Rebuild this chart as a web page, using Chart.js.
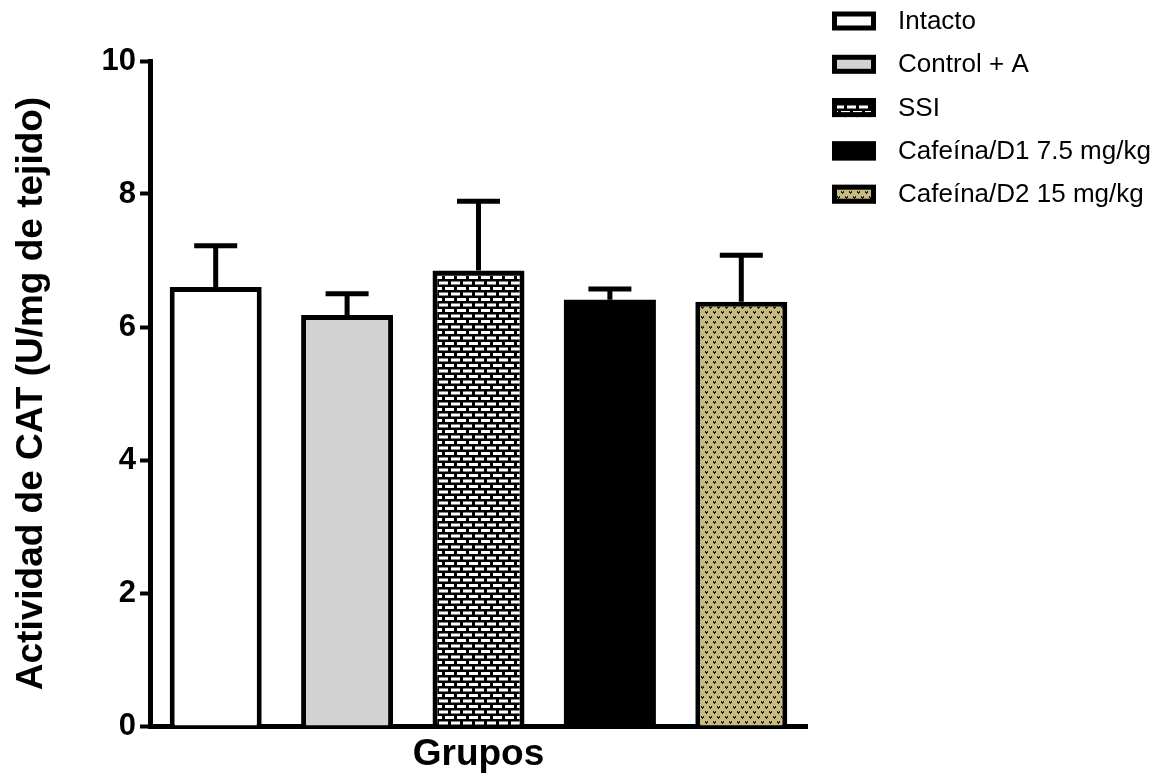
<!DOCTYPE html>
<html lang="es">
<head>
  <meta charset="UTF-8">
  <title>Actividad de CAT</title>
  <style>
    body { margin: 0; background: #fff; }
    #grafica { display: block; }
  </style>
</head>
<body>

<canvas id="grafica" width="1163" height="777"></canvas>

<script src="https://cdn.jsdelivr.net/npm/chart.js"></script>
<script>
  // datos
  const grupos = ['Intacto', 'Control + A', 'SSI', 'Cafeína/D1 7.5 mg/kg', 'Cafeína/D2 15 mg/kg'];
  const medias = [6.60, 6.18, 6.85, 6.41, 6.38];
  const errores = [0.62, 0.32, 1.04, 0.16, 0.70];
  const ejeY = { min: 0, max: 10, paso: 2 };

  const fuente = "'Liberation Sans', Arial, sans-serif";

  // patron de ladrillos (SSI)
  function patronLadrillo(ctx) {
    const c = document.createElement('canvas');
    c.width = 12; c.height = 11;
    const g = c.getContext('2d');
    g.fillStyle = '#000';
    g.fillRect(0, 0, 12, 11);
    g.fillStyle = '#fff';
    g.fillRect(1, 1, 9, 3);
    g.fillRect(7, 6.5, 5, 3);
    g.fillRect(0, 6.5, 4, 3);
    return ctx.createPattern(c, 'repeat');
  }

  // patron caqui con marcas oscuras (D2)
  function patronCaqui(ctx) {
    const c = document.createElement('canvas');
    c.width = 8; c.height = 10;
    const g = c.getContext('2d');
    g.fillStyle = '#c8bb7f';
    g.fillRect(0, 0, 8, 10);
    g.fillStyle = '#1f1e18';
    const marca = (x, y) => {
      g.fillRect(x, y, 1, 2);
      g.fillRect(x + 2, y, 1, 2);
      g.fillRect(x + 1, y + 1, 1, 2);
    };
    marca(1, 1);
    marca(5, 6);
    return ctx.createPattern(c, 'repeat');
  }

  const ctx = document.getElementById('grafica').getContext('2d');
  const rellenos = ['#ffffff', '#d3d3d3', patronLadrillo(ctx), '#000000', patronCaqui(ctx)];

  // barras de error (solo hacia arriba)
  const barrasError = {
    id: 'barrasError',
    afterDatasetsDraw(chart) {
      const c = chart.ctx;
      const y = chart.scales.y;
      const meta = chart.getDatasetMeta(0);
      c.save();
      c.strokeStyle = '#000';
      c.lineWidth = 5;
      meta.data.forEach((bar, i) => {
        const yBase = y.getPixelForValue(medias[i]);
        const yTop = y.getPixelForValue(medias[i] + errores[i]);
        c.beginPath();
        c.moveTo(bar.x, yBase);
        c.lineTo(bar.x, yTop);
        c.moveTo(bar.x - 21.5, yTop);
        c.lineTo(bar.x + 21.5, yTop);
        c.stroke();
      });
      c.restore();
    }
  };

  // leyenda a la derecha
  const leyenda = {
    id: 'leyenda',
    afterDraw(chart) {
      const c = chart.ctx;
      c.save();
      grupos.forEach((g, i) => {
        const yc = 21 + i * 43.3;
        c.fillStyle = rellenos[i];
        c.fillRect(832, yc - 9.5, 44, 19);
        c.strokeStyle = '#000';
        c.lineWidth = 5;
        c.strokeRect(834.5, yc - 7, 39, 14);
        c.fillStyle = '#000';
        c.font = '26px ' + fuente;
        c.textBaseline = 'middle';
        c.textAlign = 'left';
        c.fillText(g, 898, yc + 1);
      });
      c.restore();
    }
  };

  new Chart(ctx, {
    type: 'bar',
    data: {
      labels: grupos,
      datasets: [{
        data: medias,
        backgroundColor: rellenos,
        borderColor: '#000',
        borderWidth: [5, 5, 5, 0, 5],
        borderSkipped: 'bottom',
        barPercentage: 0.7,
        categoryPercentage: 1.0
      }]
    },
    options: {
      responsive: false,
      animation: false,
      events: [],
      layout: { padding: { left: 0, right: 356, top: 61, bottom: 0 } },
      plugins: {
        legend: { display: false },
        tooltip: { enabled: false }
      },
      scales: {
        x: {
          ticks: { display: false },
          grid: { display: false },
          border: { display: true, color: '#000', width: 5 },
          title: {
            display: true, text: 'Grupos', color: '#000',
            font: { family: fuente, size: 37, weight: 'bold' },
            padding: 0
          },
          afterFit: s => { s.height = 51; }
        },
        y: {
          min: ejeY.min,
          max: ejeY.max,
          ticks: {
            stepSize: ejeY.paso, color: '#000', padding: 4,
            font: { family: fuente, size: 31, weight: 'bold' }
          },
          grid: {
            display: true, drawOnChartArea: false, drawTicks: true,
            tickLength: 10, tickWidth: 4, tickColor: '#000'
          },
          border: { display: true, color: '#000', width: 5 },
          title: {
            display: true, text: 'Actividad de CAT (U/mg de tejido)', color: '#000',
            font: { family: fuente, size: 37, weight: 'bold' },
            padding: { top: 10, bottom: 0 }
          },
          afterFit: s => { s.width = 150; }
        }
      }
    },
    plugins: [barrasError, leyenda]
  });
</script>

</body>
</html>
